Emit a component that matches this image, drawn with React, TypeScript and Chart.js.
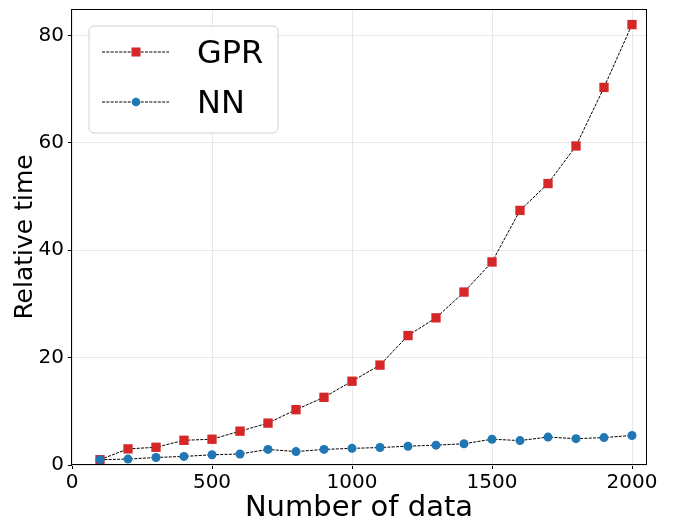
import React, { useEffect, useRef } from "react";
import { Chart, registerables } from "chart.js";

Chart.register(...registerables);

const dataSizes = [100, 200, 300, 400, 500, 600, 700, 800, 900, 1000, 1100, 1200, 1300, 1400, 1500, 1600, 1700, 1800, 1900, 2000];
const gprTime = [1.0, 3.0, 3.3, 4.6, 4.8, 6.3, 7.8, 10.3, 12.6, 15.6, 18.6, 24.1, 27.4, 32.2, 37.8, 47.4, 52.4, 59.4, 70.3, 82.0];
const nnTime = [1.0, 1.1, 1.4, 1.6, 1.9, 2.05, 2.9, 2.5, 2.9, 3.1, 3.25, 3.5, 3.7, 3.95, 4.8, 4.55, 5.2, 4.9, 5.1, 5.5];
const seriesLabels = ["GPR", "NN"];
const xTicks = [0, 500, 1000, 1500, 2000];
const yTicks = [0, 20, 40, 60, 80];
const xTitle = "Number of data";
const yTitle = "Relative time";

const RED = "#d62728";
const BLUE = "#1f77b4";
const FONT = "'DejaVu Sans', sans-serif";

const framePlugin = {
  id: "frameAndLegend",
  afterDatasetsDraw(chart: any) {
    const { ctx, chartArea } = chart;
    ctx.save();
    // frame
    ctx.strokeStyle = "#000";
    ctx.lineWidth = 1;
    ctx.strokeRect(
      Math.round(chartArea.left) - 0.5,
      Math.round(chartArea.top) + 0.5,
      Math.round(chartArea.right - chartArea.left) + 1,
      Math.round(chartArea.bottom - chartArea.top) - 1
    );
    // legend box
    const bx = chartArea.left + 17;
    const by = chartArea.top + 17;
    const bw = 189;
    const bh = 107;
    const r = 5;
    ctx.beginPath();
    ctx.moveTo(bx + r, by);
    ctx.lineTo(bx + bw - r, by);
    ctx.arcTo(bx + bw, by, bx + bw, by + r, r);
    ctx.lineTo(bx + bw, by + bh - r);
    ctx.arcTo(bx + bw, by + bh, bx + bw - r, by + bh, r);
    ctx.lineTo(bx + r, by + bh);
    ctx.arcTo(bx, by + bh, bx, by + bh - r, r);
    ctx.lineTo(bx, by + r);
    ctx.arcTo(bx, by, bx + r, by, r);
    ctx.closePath();
    ctx.fillStyle = "rgba(255,255,255,0.85)";
    ctx.fill();
    ctx.strokeStyle = "#d0d0d0";
    ctx.lineWidth = 1;
    ctx.stroke();

    const ds = chart.data.datasets;
    const rows = [by + 26, by + 76];
    ds.forEach((d: any, i: number) => {
      const y = rows[i];
      ctx.beginPath();
      ctx.setLineDash([3, 1.3]);
      ctx.strokeStyle = "#000";
      ctx.lineWidth = 1;
      ctx.moveTo(bx + 13, y);
      ctx.lineTo(bx + 80, y);
      ctx.stroke();
      ctx.setLineDash([]);
      ctx.fillStyle = d.pointBackgroundColor;
      const mx = bx + 47;
      if (d.pointStyle === "rect") {
        ctx.fillRect(mx - 4.5, y - 4.5, 9, 9);
      } else {
        ctx.beginPath();
        ctx.arc(mx, y, 4.3, 0, Math.PI * 2);
        ctx.fill();
      }
      ctx.fillStyle = "#000";
      ctx.font = `32px ${FONT}`;
      ctx.textBaseline = "middle";
      ctx.textAlign = "left";
      ctx.fillText(d.label, bx + 108, y + 2.5);
    });
    ctx.restore();
  },
};

export default function App() {
  const ref = useRef<HTMLCanvasElement>(null);
  useEffect(() => {
    if (!ref.current) return;
    const chart = new Chart(ref.current, {
      type: "line",
      data: {
        datasets: [
          {
            label: seriesLabels[0],
            data: dataSizes.map((x, i) => ({ x, y: gprTime[i] })),
            borderColor: "#000",
            borderWidth: 1,
            borderDash: [3, 1.3],
            pointStyle: "rect",
            pointRadius: 6.6,
            pointBackgroundColor: RED,
            pointBorderColor: RED,
            pointBorderWidth: 0,
            order: 1,
          },
          {
            label: seriesLabels[1],
            data: dataSizes.map((x, i) => ({ x, y: nnTime[i] })),
            borderColor: "#000",
            borderWidth: 1,
            borderDash: [3, 1.3],
            pointStyle: "circle",
            pointRadius: 4.5,
            pointBackgroundColor: BLUE,
            pointBorderColor: BLUE,
            pointBorderWidth: 0,
            order: 0,
          },
        ],
      },
      options: {
        responsive: false,
        animation: false,
        layout: { padding: { top: 9, right: 27, left: 0, bottom: 0 } },
        plugins: { legend: { display: false }, tooltip: { enabled: false } },
        scales: {
          x: {
            type: "linear",
            min: 0,
            max: 2050,
            afterBuildTicks: (s: any) => {
              s.ticks = xTicks.map((v) => ({ value: v }));
            },
            afterFit: (s: any) => {
              s.height = 55;
              s.paddingLeft = 0;
              s.paddingRight = 0;
            },
            ticks: {
              autoSkip: false,
              callback: (v: any) => String(v),
              color: "#000",
              font: { family: FONT, size: 20 },
              padding: 2,
              maxRotation: 0,
              minRotation: 0,
            },
            grid: { color: "#e8e8e8", tickColor: "#000", tickLength: 4, lineWidth: 1 },
            border: { display: false },
            title: {
              display: true,
              text: xTitle,
              color: "#000",
              font: { family: FONT, size: 29, lineHeight: 0.5 },
              padding: { top: 0, bottom: 4 },
            },
          },
          y: {
            type: "linear",
            min: 0,
            max: 84.9,
            afterBuildTicks: (s: any) => {
              s.ticks = yTicks.map((v) => ({ value: v }));
            },
            afterFit: (s: any) => {
              s.width = 72;
              s.paddingTop = 0;
              s.paddingBottom = 0;
            },
            ticks: {
              autoSkip: false,
              callback: (v: any) => String(v),
              color: "#000",
              font: { family: FONT, size: 20 },
              padding: 4,
            },
            grid: { color: "#e8e8e8", tickColor: "#000", tickLength: 4, lineWidth: 1 },
            border: { display: false },
            title: {
              display: true,
              text: yTitle,
              color: "#000",
              font: { family: FONT, size: 25, lineHeight: 1 },
              padding: { top: 13, bottom: 0 },
            },
          },
        },
      },
      plugins: [framePlugin],
    });
    return () => chart.destroy();
  }, []);
  return (
    <div style={{ position: "absolute", left: 0, top: 0, width: 673, height: 520, background: "#fff" }}>
      <canvas ref={ref} width={673} height={520} style={{ display: "block" }} />
    </div>
  );
}
